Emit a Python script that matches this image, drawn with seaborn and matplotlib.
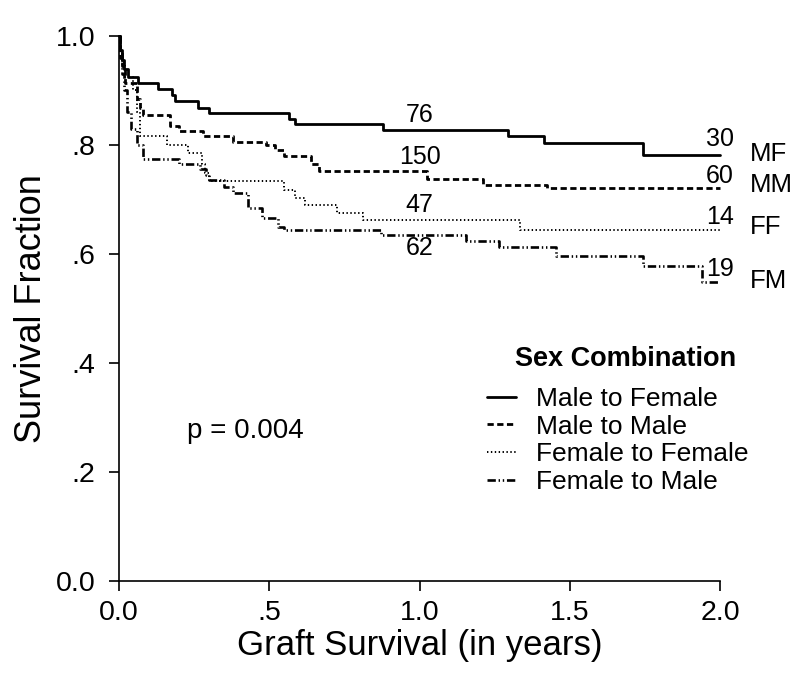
import pandas as pd
import matplotlib
matplotlib.use("Agg")
import matplotlib.pyplot as plt
import seaborn as sns

# Kaplan-Meier steps (time in years, survival fraction)
mf_time = [0, 0.004, 0.008, 0.015, 0.03, 0.063, 0.13, 0.176, 0.186, 0.263, 0.30,
           0.565, 0.585, 0.878, 1.294, 1.415, 1.745, 2.0]
mf_surv = [1.0, 0.975, 0.955, 0.94, 0.925, 0.913, 0.903, 0.892, 0.880, 0.867, 0.858,
           0.848, 0.839, 0.828, 0.816, 0.803, 0.782, 0.782]

mm_time = [0, 0.004, 0.01, 0.02, 0.06, 0.07, 0.08, 0.17, 0.20, 0.28, 0.38, 0.49,
           0.52, 0.55, 0.64, 0.665, 1.025, 1.21, 1.425, 2.0]
mm_surv = [1.0, 0.97, 0.945, 0.913, 0.885, 0.868, 0.855, 0.834, 0.826, 0.817, 0.806,
           0.80, 0.79, 0.779, 0.765, 0.752, 0.737, 0.727, 0.721, 0.721]

ff_time = [0, 0.004, 0.01, 0.02, 0.045, 0.06, 0.07, 0.16, 0.23, 0.275, 0.285, 0.30,
           0.55, 0.585, 0.62, 0.725, 0.81, 1.335, 2.0]
ff_surv = [1.0, 0.97, 0.95, 0.925, 0.90, 0.86, 0.817, 0.800, 0.785, 0.765, 0.748,
           0.733, 0.717, 0.702, 0.690, 0.675, 0.662, 0.643, 0.643]

fm_time = [0, 0.003, 0.008, 0.015, 0.025, 0.04, 0.06, 0.08, 0.20, 0.27, 0.29, 0.30,
           0.35, 0.38, 0.43, 0.475, 0.53, 0.55, 0.87, 1.155, 1.265, 1.455, 1.745,
           1.94, 2.0]
fm_surv = [1.0, 0.96, 0.93, 0.90, 0.86, 0.83, 0.80, 0.774, 0.765, 0.755, 0.745, 0.735,
           0.723, 0.711, 0.684, 0.666, 0.650, 0.644, 0.635, 0.624, 0.613, 0.596, 0.577,
           0.549, 0.549]

group_names = ["Male to Female", "Male to Male", "Female to Female", "Female to Male"]
group_codes = ["MF", "MM", "FF", "FM"]

# numbers at risk: at 1 year and at 2 years
risk_1yr = [76, 150, 47, 62]
risk_1yr_y = [0.855, 0.777, 0.689, 0.610]
risk_2yr = [30, 60, 14, 19]
risk_2yr_y = [0.810, 0.743, 0.667, 0.572]
code_y = [0.783, 0.727, 0.650, 0.550]

x_ticks = [0.0, 0.5, 1.0, 1.5, 2.0]
x_ticklabels = ["0.0", ".5", "1.0", "1.5", "2.0"]
y_ticks = [0.0, 0.2, 0.4, 0.6, 0.8, 1.0]
y_ticklabels = ["0.0", ".2", ".4", ".6", ".8", "1.0"]

sns.set_style("ticks")
plt.rcParams["font.family"] = ["Liberation Sans", "DejaVu Sans"]
plt.rcParams["lines.scale_dashes"] = False
plt.rcParams["text.color"] = "black"
plt.rcParams["axes.labelcolor"] = "black"

fig = plt.figure(figsize=(8, 6.85), dpi=100)
ax = fig.add_axes([0.149, 0.152, 0.751, 0.7956])

styles = [
    ("-", 2.0),
    ((0, (4.5, 2.5)), 2.0),
    ((0, (1.0, 1.8)), 1.4),
    ((0, (6.0, 2.0, 1.0, 2.0, 1.0, 2.0)), 1.9),
]
series = [(mf_time, mf_surv), (mm_time, mm_surv), (ff_time, ff_surv), (fm_time, fm_surv)]

for name, (t, s), (ls, lw) in zip(group_names, series, styles):
    df = pd.DataFrame({"time": t, "surv": s})
    sns.lineplot(data=df, x="time", y="surv", ax=ax, color="black",
                 drawstyle="steps-post", estimator=None, sort=False,
                 linestyle=ls, linewidth=lw, label=name, clip_on=False)

# numbers at risk and group codes
for n, y in zip(risk_1yr, risk_1yr_y):
    ax.text(1.0, y, str(n), ha="center", va="center", fontsize=18)
for n, y in zip(risk_2yr, risk_2yr_y):
    ax.text(2.0, y, str(n), ha="center", va="center", fontsize=18)
for c, y in zip(group_codes, code_y):
    ax.text(2.1, y, c, ha="left", va="center", fontsize=18.5)

ax.text(0.42, 0.275, "p = 0.004", ha="center", va="center", fontsize=20)

ax.set_xlim(0, 2.0)
ax.set_ylim(0, 1.0)
ax.set_xticks(x_ticks)
ax.set_xticklabels(x_ticklabels)
ax.set_yticks(y_ticks)
ax.set_yticklabels(y_ticklabels)
ax.tick_params(axis="both", direction="out", length=7, width=1.2,
               labelsize=20.5, colors="black")
ax.tick_params(axis="x", pad=7)
ax.tick_params(axis="y", pad=10)
for side in ["left", "bottom"]:
    ax.spines[side].set_linewidth(1.2)
    ax.spines[side].set_color("black")
sns.despine(ax=ax)

ax.set_xlabel("Graft Survival (in years)", fontsize=25, labelpad=2)
ax.set_ylabel("Survival Fraction", fontsize=26, labelpad=5)

# legend title drawn separately so the gap below it matches
ax.text(0.8436, 0.407, "Sex Combination", transform=ax.transAxes, ha="center",
        va="center", fontsize=19.5, fontweight="bold")
handles, labels = ax.get_legend_handles_labels()
ax.legend(handles, labels, loc="upper left", bbox_to_anchor=(0.612, 0.356),
          frameon=False, fontsize=19, handlelength=1.1, handletextpad=0.75,
          labelspacing=0.14, borderpad=0, borderaxespad=0)

fig.savefig("out.png", dpi=100)
